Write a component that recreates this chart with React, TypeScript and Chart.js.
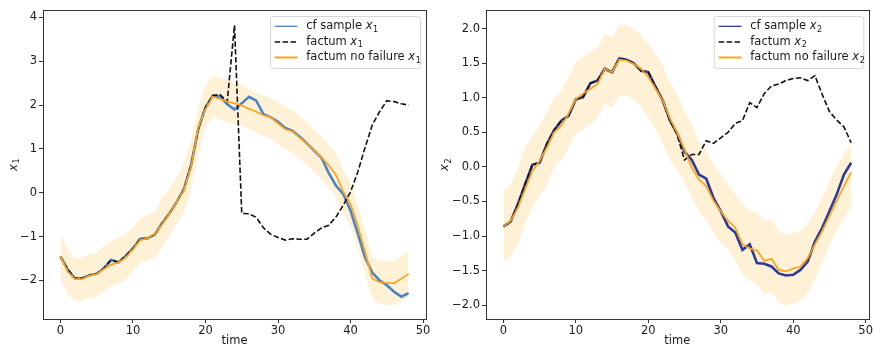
import React, { useEffect, useRef } from 'react';
import { Chart, registerables } from 'chart.js';

Chart.register(...registerables);

// ---------- data ----------
const TIME = [0, 1, 2, 3, 4, 5, 6, 7, 8, 9, 10, 11, 12, 13, 14, 15, 16, 17, 18, 19, 20, 21, 22, 23, 24, 25, 26, 27, 28, 29, 30, 31, 32, 33, 34, 35, 36, 37, 38, 39, 40, 41, 42, 43, 44, 45, 46, 47, 48];

// panel 1 (x1)
const CF_X1 = [-1.45, -1.75, -1.95, -1.95, -1.88, -1.85, -1.72, -1.53, -1.59, -1.44, -1.27, -1.05, -1.04, -0.95, -0.70, -0.48, -0.22, 0.07, 0.62, 1.45, 1.95, 2.21, 2.20, 2.02, 1.90, 2.04, 2.19, 2.10, 1.79, 1.72, 1.62, 1.48, 1.41, 1.28, 1.12, 0.96, 0.80, 0.45, 0.16, -0.03, -0.41, -0.93, -1.48, -1.82, -2.00, -2.11, -2.26, -2.37, -2.29];
const FACTUM_X1 = [-1.45, -1.75, -1.95, -1.95, -1.88, -1.85, -1.72, -1.53, -1.59, -1.44, -1.27, -1.05, -1.04, -0.95, -0.70, -0.48, -0.22, 0.07, 0.62, 1.45, 1.95, 2.22, 2.24, 2.08, 3.82, -0.47, -0.48, -0.56, -0.80, -0.95, -1.02, -1.08, -1.05, -1.06, -1.06, -0.92, -0.80, -0.74, -0.55, -0.28, 0.02, 0.48, 1.03, 1.55, 1.85, 2.10, 2.08, 2.03, 2.00];
const NOFAIL_X1 = [-1.44, -1.80, -1.97, -1.97, -1.89, -1.86, -1.74, -1.64, -1.59, -1.48, -1.29, -1.08, -1.04, -0.94, -0.72, -0.49, -0.22, 0.05, 0.58, 1.49, 1.91, 2.19, 2.14, 2.08, 2.04, 1.99, 1.91, 1.85, 1.77, 1.72, 1.58, 1.45, 1.40, 1.26, 1.11, 0.96, 0.81, 0.62, 0.40, 0.02, -0.26, -0.76, -1.35, -1.96, -2.04, -2.06, -2.06, -1.96, -1.85];
const UPPER_X1 = [-0.94, -1.30, -1.48, -1.48, -1.39, -1.37, -1.21, -1.10, -1.02, -0.94, -0.79, -0.58, -0.50, -0.45, -0.11, 0.08, 0.35, 0.65, 1.19, 1.95, 2.44, 2.67, 2.63, 2.60, 2.52, 2.48, 2.37, 2.28, 2.22, 2.16, 2.06, 1.95, 1.88, 1.75, 1.60, 1.44, 1.28, 1.10, 0.90, 0.52, 0.24, -0.28, -0.86, -1.48, -1.55, -1.56, -1.55, -1.44, -1.32];
const LOWER_X1 = [-1.97, -2.31, -2.47, -2.47, -2.39, -2.38, -2.24, -2.12, -2.08, -1.97, -1.78, -1.59, -1.55, -1.48, -1.25, -0.98, -0.72, -0.45, 0.05, 0.88, 1.49, 1.72, 1.68, 1.61, 1.57, 1.53, 1.45, 1.37, 1.29, 1.24, 1.10, 0.98, 0.92, 0.78, 0.63, 0.47, 0.31, 0.13, -0.10, -0.46, -0.78, -1.28, -1.88, -2.42, -2.54, -2.56, -2.56, -2.47, -2.37];

// panel 2 (x2)
const CF_X2 = [-0.86, -0.79, -0.54, -0.25, 0.03, 0.06, 0.33, 0.53, 0.67, 0.74, 0.98, 1.01, 1.21, 1.25, 1.42, 1.37, 1.57, 1.55, 1.50, 1.39, 1.37, 1.16, 0.96, 0.67, 0.48, 0.22, 0.10, -0.11, -0.17, -0.45, -0.64, -0.86, -0.95, -1.20, -1.12, -1.39, -1.40, -1.44, -1.54, -1.57, -1.56, -1.49, -1.37, -1.08, -0.88, -0.64, -0.40, -0.11, 0.06];
const FACTUM_X2 = [-0.86, -0.79, -0.54, -0.25, 0.03, 0.06, 0.33, 0.53, 0.67, 0.74, 0.98, 1.01, 1.21, 1.25, 1.42, 1.37, 1.57, 1.55, 1.50, 1.39, 1.37, 1.16, 0.96, 0.67, 0.46, 0.10, 0.18, 0.18, 0.38, 0.34, 0.42, 0.50, 0.63, 0.67, 0.93, 0.86, 1.06, 1.17, 1.20, 1.25, 1.28, 1.29, 1.25, 1.32, 1.05, 0.80, 0.68, 0.58, 0.35];
const NOFAIL_X2 = [-0.86, -0.78, -0.59, -0.32, -0.06, 0.09, 0.28, 0.50, 0.60, 0.77, 0.98, 1.06, 1.13, 1.20, 1.42, 1.37, 1.55, 1.54, 1.49, 1.42, 1.30, 1.13, 0.96, 0.70, 0.49, 0.25, -0.01, -0.18, -0.28, -0.49, -0.64, -0.78, -0.88, -1.12, -1.18, -1.21, -1.36, -1.33, -1.49, -1.51, -1.47, -1.44, -1.32, -1.12, -0.93, -0.71, -0.49, -0.28, -0.08];
const UPPER_X2 = [-0.35, -0.25, -0.01, 0.28, 0.45, 0.60, 0.79, 1.01, 1.10, 1.30, 1.52, 1.59, 1.66, 1.73, 1.93, 1.88, 2.05, 2.05, 2.00, 1.90, 1.78, 1.64, 1.47, 1.23, 1.04, 0.81, 0.62, 0.38, 0.23, 0.04, -0.11, -0.25, -0.40, -0.54, -0.64, -0.66, -0.78, -0.76, -0.93, -0.99, -0.95, -0.93, -0.83, -0.66, -0.45, -0.20, -0.01, 0.18, 0.35];
const LOWER_X2 = [-1.37, -1.29, -1.12, -0.83, -0.59, -0.42, -0.25, 0.00, 0.09, 0.28, 0.48, 0.55, 0.62, 0.72, 0.91, 0.86, 1.03, 1.03, 0.98, 0.86, 0.72, 0.55, 0.33, 0.09, -0.06, -0.22, -0.45, -0.65, -0.77, -0.95, -1.10, -1.20, -1.35, -1.55, -1.64, -1.70, -1.84, -1.82, -1.96, -2.01, -1.98, -1.94, -1.82, -1.64, -1.38, -1.13, -0.92, -0.75, -0.57];

const X_TICKS = [0, 10, 20, 30, 40, 50];
const Y_TICKS_1 = [-2, -1, 0, 1, 2, 3, 4];
const Y_TICKS_2 = [-2.0, -1.5, -1.0, -0.5, 0.0, 0.5, 1.0, 1.5, 2.0];

const LEGEND_LABELS = ['cf sample ', 'factum ', 'factum no failure '];

// ---------- styling ----------
const FONT = '"DejaVu Sans", sans-serif';
const TICK_SIZE = 11.5;
const ORANGE = '#ffa31a';
const BAND = 'rgba(255,165,0,0.16)';
const BLACK = '#111111';
const DASH = [5.5, 2.4];

type Panel = {
  sub: string;
  cf: number[];
  factum: number[];
  nofail: number[];
  upper: number[];
  lower: number[];
  yTicks: number[];
  yMin: number;
  yMax: number;
  decimals: number;
  blue: string;
  yAxisWidth: number;
  padRight: number;
  yLabelX: number;
  legendBox: { x: number; y: number; w: number; h: number };
  legendLine: [number, number];
  legendText: number;
};

const PANELS: Panel[] = [
  {
    sub: '1', cf: CF_X1, factum: FACTUM_X1, nofail: NOFAIL_X1, upper: UPPER_X1, lower: LOWER_X1,
    yTicks: Y_TICKS_1, yMin: -2.88, yMax: 4.17, decimals: 0, blue: '#4a84c6',
    yAxisWidth: 43, padRight: 11, yLabelX: 14,
    legendBox: { x: 270.5, y: 16.5, w: 150, h: 52 }, legendLine: [274.7, 297.5], legendText: 306.3,
  },
  {
    sub: '2', cf: CF_X2, factum: FACTUM_X2, nofail: NOFAIL_X2, upper: UPPER_X2, lower: LOWER_X2,
    yTicks: Y_TICKS_2, yMin: -2.20, yMax: 2.27, decimals: 1, blue: '#2d3a9c',
    yAxisWidth: 49, padRight: 5, yLabelX: 8.5,
    legendBox: { x: 277.3, y: 16.5, w: 149.5, h: 52 }, legendLine: [281.7, 304.5], legendText: 313.3,
  },
];

const fmt = (v: number, d: number) => {
  const s = Math.abs(v).toFixed(d);
  return v < -1e-9 ? '\u2212' + s : s;
};

function drawXSub(ctx: CanvasRenderingContext2D, x: number, y: number, sub: string, size: number) {
  ctx.font = `italic ${size}px ${FONT}`;
  ctx.fillText('x', x, y);
  const w = ctx.measureText('x').width;
  ctx.font = `${size * 0.7}px ${FONT}`;
  ctx.fillText(sub, x + w + 0.5, y + size * 0.28);
  return w + 0.5 + ctx.measureText(sub).width;
}

function makeDecor(p: Panel) {
  return {
    id: 'decor' + p.sub,
    afterDraw(chart: any) {
      const ctx: CanvasRenderingContext2D = chart.ctx;
      const a = chart.chartArea;
      ctx.save();
      // frame
      ctx.strokeStyle = '#333333';
      ctx.lineWidth = 1;
      ctx.strokeRect(Math.round(a.left) + 0.5, Math.round(a.top) + 0.5, Math.round(a.right - a.left), Math.round(a.bottom - a.top));

      ctx.fillStyle = '#1a1a1a';
      ctx.textBaseline = 'middle';
      // x label
      ctx.font = `${TICK_SIZE}px ${FONT}`;
      ctx.textAlign = 'center';
      ctx.fillText('time', (a.left + a.right) / 2, 341.5);

      // y label (rotated)
      ctx.save();
      ctx.translate(p.yLabelX, (a.top + a.bottom) / 2);
      ctx.rotate(-Math.PI / 2);
      ctx.textAlign = 'left';
      ctx.font = `italic ${TICK_SIZE}px ${FONT}`;
      const wx = ctx.measureText('x').width;
      drawXSub(ctx, -(wx + 6) / 2, 0, p.sub, TICK_SIZE);
      ctx.restore();

      // legend
      const b = p.legendBox;
      ctx.beginPath();
      (ctx as any).roundRect(b.x, b.y, b.w, b.h, 3);
      ctx.fillStyle = 'rgba(255,255,255,0.85)';
      ctx.fill();
      ctx.strokeStyle = '#d6d6d6';
      ctx.lineWidth = 1;
      ctx.stroke();

      const rows = [26.3, 42, 57.5];
      const styles = [
        { color: p.blue, width: 1.3, dash: [] as number[] },
        { color: BLACK, width: 1.6, dash: DASH },
        { color: ORANGE, width: 2, dash: [] as number[] },
      ];
      rows.forEach((ry, i) => {
        const s = styles[i];
        ctx.beginPath();
        ctx.setLineDash(s.dash);
        ctx.strokeStyle = s.color;
        ctx.lineWidth = s.width;
        ctx.moveTo(p.legendLine[0], ry);
        ctx.lineTo(p.legendLine[1], ry);
        ctx.stroke();
        ctx.setLineDash([]);
        ctx.fillStyle = '#1a1a1a';
        ctx.textAlign = 'left';
        ctx.font = `${TICK_SIZE}px ${FONT}`;
        ctx.fillText(LEGEND_LABELS[i], p.legendText, ry);
        const w = ctx.measureText(LEGEND_LABELS[i]).width;
        drawXSub(ctx, p.legendText + w, ry, p.sub, TICK_SIZE);
      });
      ctx.restore();
    },
  };
}

function makeConfig(p: Panel): any {
  const pts = (arr: number[]) => TIME.map((t, i) => ({ x: t, y: arr[i] }));
  const line = (arr: number[], color: string, width: number, order: number, dash: number[] = []) => ({
    data: pts(arr),
    borderColor: color,
    borderWidth: width,
    borderDash: dash,
    pointRadius: 0,
    tension: 0,
    fill: false,
    order,
  });
  return {
    type: 'line',
    data: {
      datasets: [
        { data: pts(p.upper), borderWidth: 0, borderColor: 'transparent', pointRadius: 0, fill: false, order: 10 },
        { data: pts(p.lower), borderWidth: 0, borderColor: 'transparent', pointRadius: 0, fill: '-1', backgroundColor: BAND, order: 9 },
        line(p.cf, p.blue, 2.6, 3),
        line(p.factum, BLACK, 1.6, 2, DASH),
        line(p.nofail, ORANGE, 1.7, 1),
      ],
    },
    options: {
      responsive: false,
      animation: false,
      devicePixelRatio: 1,
      layout: { padding: { top: 10, right: p.padRight, left: 0, bottom: 0 } },
      plugins: { legend: { display: false }, tooltip: { enabled: false }, title: { display: false } },
      scales: {
        x: {
          type: 'linear',
          min: -2.4,
          max: 50.4,
          afterBuildTicks: (s: any) => { s.ticks = X_TICKS.map((v) => ({ value: v })); },
          afterFit: (s: any) => { s.height = 29; },
          ticks: {
            callback: (v: number) => fmt(v, 0),
            font: { family: FONT, size: TICK_SIZE },
            color: '#1a1a1a',
            padding: 1,
            maxRotation: 0,
            autoSkip: false,
          },
          grid: { display: true, drawOnChartArea: false, drawTicks: true, tickLength: 4, color: '#333333', lineWidth: 1 },
          border: { display: false },
        },
        y: {
          type: 'linear',
          min: p.yMin,
          max: p.yMax,
          afterBuildTicks: (s: any) => { s.ticks = p.yTicks.map((v) => ({ value: v })); },
          afterFit: (s: any) => { s.width = p.yAxisWidth; },
          ticks: {
            callback: (v: number) => fmt(v, p.decimals),
            font: { family: FONT, size: TICK_SIZE },
            color: '#1a1a1a',
            padding: 2,
            autoSkip: false,
          },
          grid: { display: true, drawOnChartArea: false, drawTicks: true, tickLength: 4, color: '#333333', lineWidth: 1 },
          border: { display: false },
        },
      },
    },
    plugins: [makeDecor(p)],
  };
}

function ChartPanel({ panel, left }: { panel: Panel; left: number }) {
  const ref = useRef<HTMLCanvasElement | null>(null);
  useEffect(() => {
    if (!ref.current) return;
    const chart = new Chart(ref.current, makeConfig(panel));
    return () => chart.destroy();
  }, [panel]);
  return (
    <canvas
      ref={ref}
      width={437}
      height={348}
      style={{ position: 'absolute', left, top: 0, width: 437, height: 348 }}
    />
  );
}

export default function App() {
  useEffect(() => {
    document.body.style.margin = '0';
    document.body.style.background = '#ffffff';
  }, []);
  return (
    <div style={{ position: 'absolute', left: 0, top: 0, width: 874, height: 348, background: '#ffffff', overflow: 'hidden' }}>
      <ChartPanel panel={PANELS[0]} left={0} />
      <ChartPanel panel={PANELS[1]} left={437} />
    </div>
  );
}
